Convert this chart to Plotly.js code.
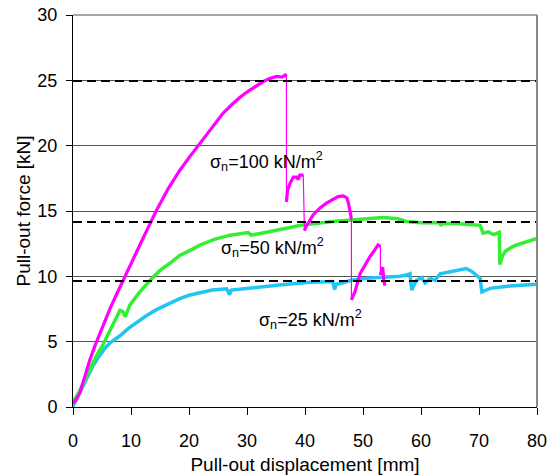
<!DOCTYPE html>
<html>
<head>
<meta charset="utf-8">
<script src="https://cdn.plot.ly/plotly-3.0.1.min.js"></script>
<style>
html,body{margin:0;padding:0;background:#fff;}
#chart{width:547px;height:475px;}
</style>
</head>
<body>
<div id="chart"></div>
<script>
// ---- data ----
// sigma_n = 100 kN/m2 (null = sudden drop)
const dispMag = [0, 0.6, 1.2, 2.0, 2.9, 3.8, 4.6, 5.5, 6.4, 7.8, 9.25, 11.0, 12.7, 14.4, 16.4, 18.4, 20.2, 21.9, 23.9, 25.9,
  27.4, 28.8, 30.3, 31.7, 33.0, 34.0, 35.1, 36.0, 36.6, 36.8,
  null, 36.8, 37.0, 37.4, 38.0, 38.6, 38.8, 39.1, 39.7,
  null, 39.9, 40.3, 41.4, 42.5, 43.7, 44.8, 45.7, 46.6, 47.2, 47.5, 47.8, 48.0,
  null, 48.0, 48.6, 49.5, 50.4, 51.2, 52.0, 52.6, 53.0,
  null, 53.0, 53.4, 53.6, 53.8];
const forceMag = [0.3, 0.6, 1.1, 2.3, 3.6, 4.7, 5.6, 6.6, 7.55, 8.9, 10.2, 11.9, 13.5, 15.05, 16.7, 18.1, 19.2, 20.2, 21.4, 22.5,
  23.15, 23.7, 24.2, 24.6, 24.95, 25.15, 25.3, 25.25, 25.4, 25.3,
  null, 15.7, 16.6, 17.1, 17.6, 17.6, 17.4, 17.75, 17.75,
  null, 13.5, 13.9, 14.7, 15.2, 15.6, 15.9, 16.1, 16.15, 16.0, 15.6, 14.8, 14.4,
  null, 8.2, 8.8, 10.2, 10.9, 11.5, 12.0, 12.4, 12.3,
  null, 10.1, 10.7, 9.6, 9.3];

// sigma_n = 50 kN/m2
const dispGreen = [0, 1.0, 2.0, 2.9, 4.0, 5.2, 6.5, 7.5, 8.1, 8.6, 9.0, 9.8, 11.5, 13.3, 15.0, 16.7, 18.4, 20.7, 21.9, 24.5, 27.1, 30.2, 30.7,
  32.5, 34.5, 37.0, 39.1, 41.5, 44.8, 47.5, 50.6, 53.5, 56.0, 57.5, 60.0, 63.3, 63.4, 63.6, 66.1, 69.0, 70.2, 70.7, 71.6,
  72.5, 73.5, 73.6, 74.0, 74.5, 75.5, 76.5, 78.5, 80];
const forceGreen = [0.4, 1.1, 2.0, 2.9, 3.9, 4.8, 6.0, 6.9, 7.4, 7.3, 6.9, 7.8, 8.8, 9.7, 10.45, 11.0, 11.6, 12.1, 12.4, 12.85, 13.15, 13.35, 13.15,
  13.3, 13.45, 13.7, 13.9, 14.05, 14.2, 14.3, 14.4, 14.5, 14.4, 14.2, 14.1, 14.1, 13.85, 14.05, 14.05, 13.95, 13.9, 13.3, 13.4,
  13.2, 13.37, 10.9, 11.5, 11.9, 12.2, 12.4, 12.65, 12.9];

// sigma_n = 25 kN/m2
const dispCyan = [0, 0.5, 1.0, 1.7, 2.4, 3.5, 4.6, 5.5, 6.5, 8.1, 9.5, 11.0, 12.7, 14.4, 16.4, 18.4, 20.0, 21.9, 24.0, 26.5, 27.0, 27.3, 30.0, 32.8, 36.0, 40.8, 44.8,
  45.1, 45.4, 46.0, 48.0, 50.6, 54.1, 56.4, 57.5, 58.1, 58.4, 59.2, 60.1, 60.7, 61.6, 62.4, 63.3, 65.0, 67.8, 68.7, 70.2,
  70.5, 71.9, 75.3, 80];
const forceCyan = [0.05, 0.5, 1.0, 1.7, 2.3, 3.2, 3.95, 4.5, 4.95, 5.45, 6.0, 6.5, 7.0, 7.45, 7.9, 8.3, 8.55, 8.75, 8.95, 9.05, 8.6, 8.95, 9.05, 9.2, 9.35, 9.55, 9.6,
  9.0, 9.4, 9.45, 9.7, 9.85, 9.95, 10.0, 10.1, 10.2, 8.95, 9.7, 9.9, 9.5, 9.85, 9.7, 10.2, 10.35, 10.6, 10.4, 9.85,
  8.8, 9.08, 9.26, 9.4];

// reference levels (dashed)
const refLevels = [24.95, 14.15, 9.65];
const refRange = [0, 80];

// labels
const seriesLabels = ['σ<sub>n</sub>=100 kN/m<sup>2</sup>', 'σ<sub>n</sub>=50 kN/m<sup>2</sup>', 'σ<sub>n</sub>=25 kN/m<sup>2</sup>'];
const xTitle = 'Pull-out displacement [mm]';
const yTitle = 'Pull-out force [kN]';

// ---- chart ----
const FONT = 'Arial, "Liberation Sans", sans-serif';
const traces = [];
traces.push({x: dispCyan, y: forceCyan, mode: 'lines', line: {color: '#22C4F4', width: 3.5}, hoverinfo: 'skip'});
traces.push({x: dispGreen, y: forceGreen, mode: 'lines', line: {color: '#33EE33', width: 3.5}, hoverinfo: 'skip'});
traces.push({x: dispMag, y: forceMag, mode: 'lines', connectgaps: true, line: {color: '#FF00FF', width: 1.2}, hoverinfo: 'skip'});
traces.push({x: dispMag, y: forceMag, mode: 'lines', connectgaps: false, line: {color: '#FF00FF', width: 3.2}, hoverinfo: 'skip'});
refLevels.forEach(v => {
  traces.push({x: refRange, y: [v, v], mode: 'lines', line: {color: '#000', width: 2, dash: '9px,5px'}, hoverinfo: 'skip'});
});

const layout = {
  width: 547, height: 475,
  margin: {l: 73, r: 10, t: 15, b: 68, pad: 0},
  paper_bgcolor: '#fff', plot_bgcolor: '#fff',
  showlegend: false,
  font: {family: FONT, size: 18, color: '#000'},
  xaxis: {
    range: [0, 80], dtick: 10, tick0: 0, showgrid: false, zeroline: false,
    showline: true, linecolor: '#000', linewidth: 1,
    ticks: 'outside', ticklen: 7, tickcolor: '#000', tickwidth: 1,
    ticklabelstandoff: 10, ticklabeloverflow: 'allow',
    tickfont: {family: FONT, size: 18, color: '#000'},
    title: {text: xTitle, font: {family: FONT, size: 19, color: '#000'}, standoff: 15},
    automargin: false, fixedrange: true
  },
  yaxis: {
    range: [0, 30], dtick: 5, tick0: 0, showgrid: true, gridcolor: '#555', gridwidth: 1, zeroline: false,
    showline: true, linecolor: '#000', linewidth: 1,
    ticks: 'outside', ticklen: 6, tickcolor: '#000', tickwidth: 1,
    ticklabelstandoff: 5, ticklabeloverflow: 'allow',
    tickfont: {family: FONT, size: 18, color: '#000'},
    title: {text: yTitle, font: {family: FONT, size: 19, color: '#000'}, standoff: 1},
    automargin: false, fixedrange: true
  },
  shapes: [
    {type: 'line', xref: 'paper', yref: 'paper', x0: 0, x1: 1, y0: 1, y1: 1, line: {color: '#888', width: 1.5}},
    {type: 'line', xref: 'paper', yref: 'paper', x0: 1, x1: 1, y0: 0, y1: 1, line: {color: '#888', width: 2}}
  ],
  annotations: [
    {x: 33.4, y: 18.77, text: seriesLabels[0], showarrow: false, xanchor: 'center', yanchor: 'middle', font: {family: FONT, size: 18, color: '#000'}},
    {x: 34.4, y: 12.17, text: seriesLabels[1], showarrow: false, xanchor: 'center', yanchor: 'middle', font: {family: FONT, size: 18, color: '#000'}},
    {x: 41.0, y: 6.66, text: seriesLabels[2], showarrow: false, xanchor: 'center', yanchor: 'middle', font: {family: FONT, size: 18, color: '#000'}}
  ]
};

Plotly.newPlot('chart', traces, layout, {staticPlot: true, displayModeBar: false});
</script>
</body>
</html>
